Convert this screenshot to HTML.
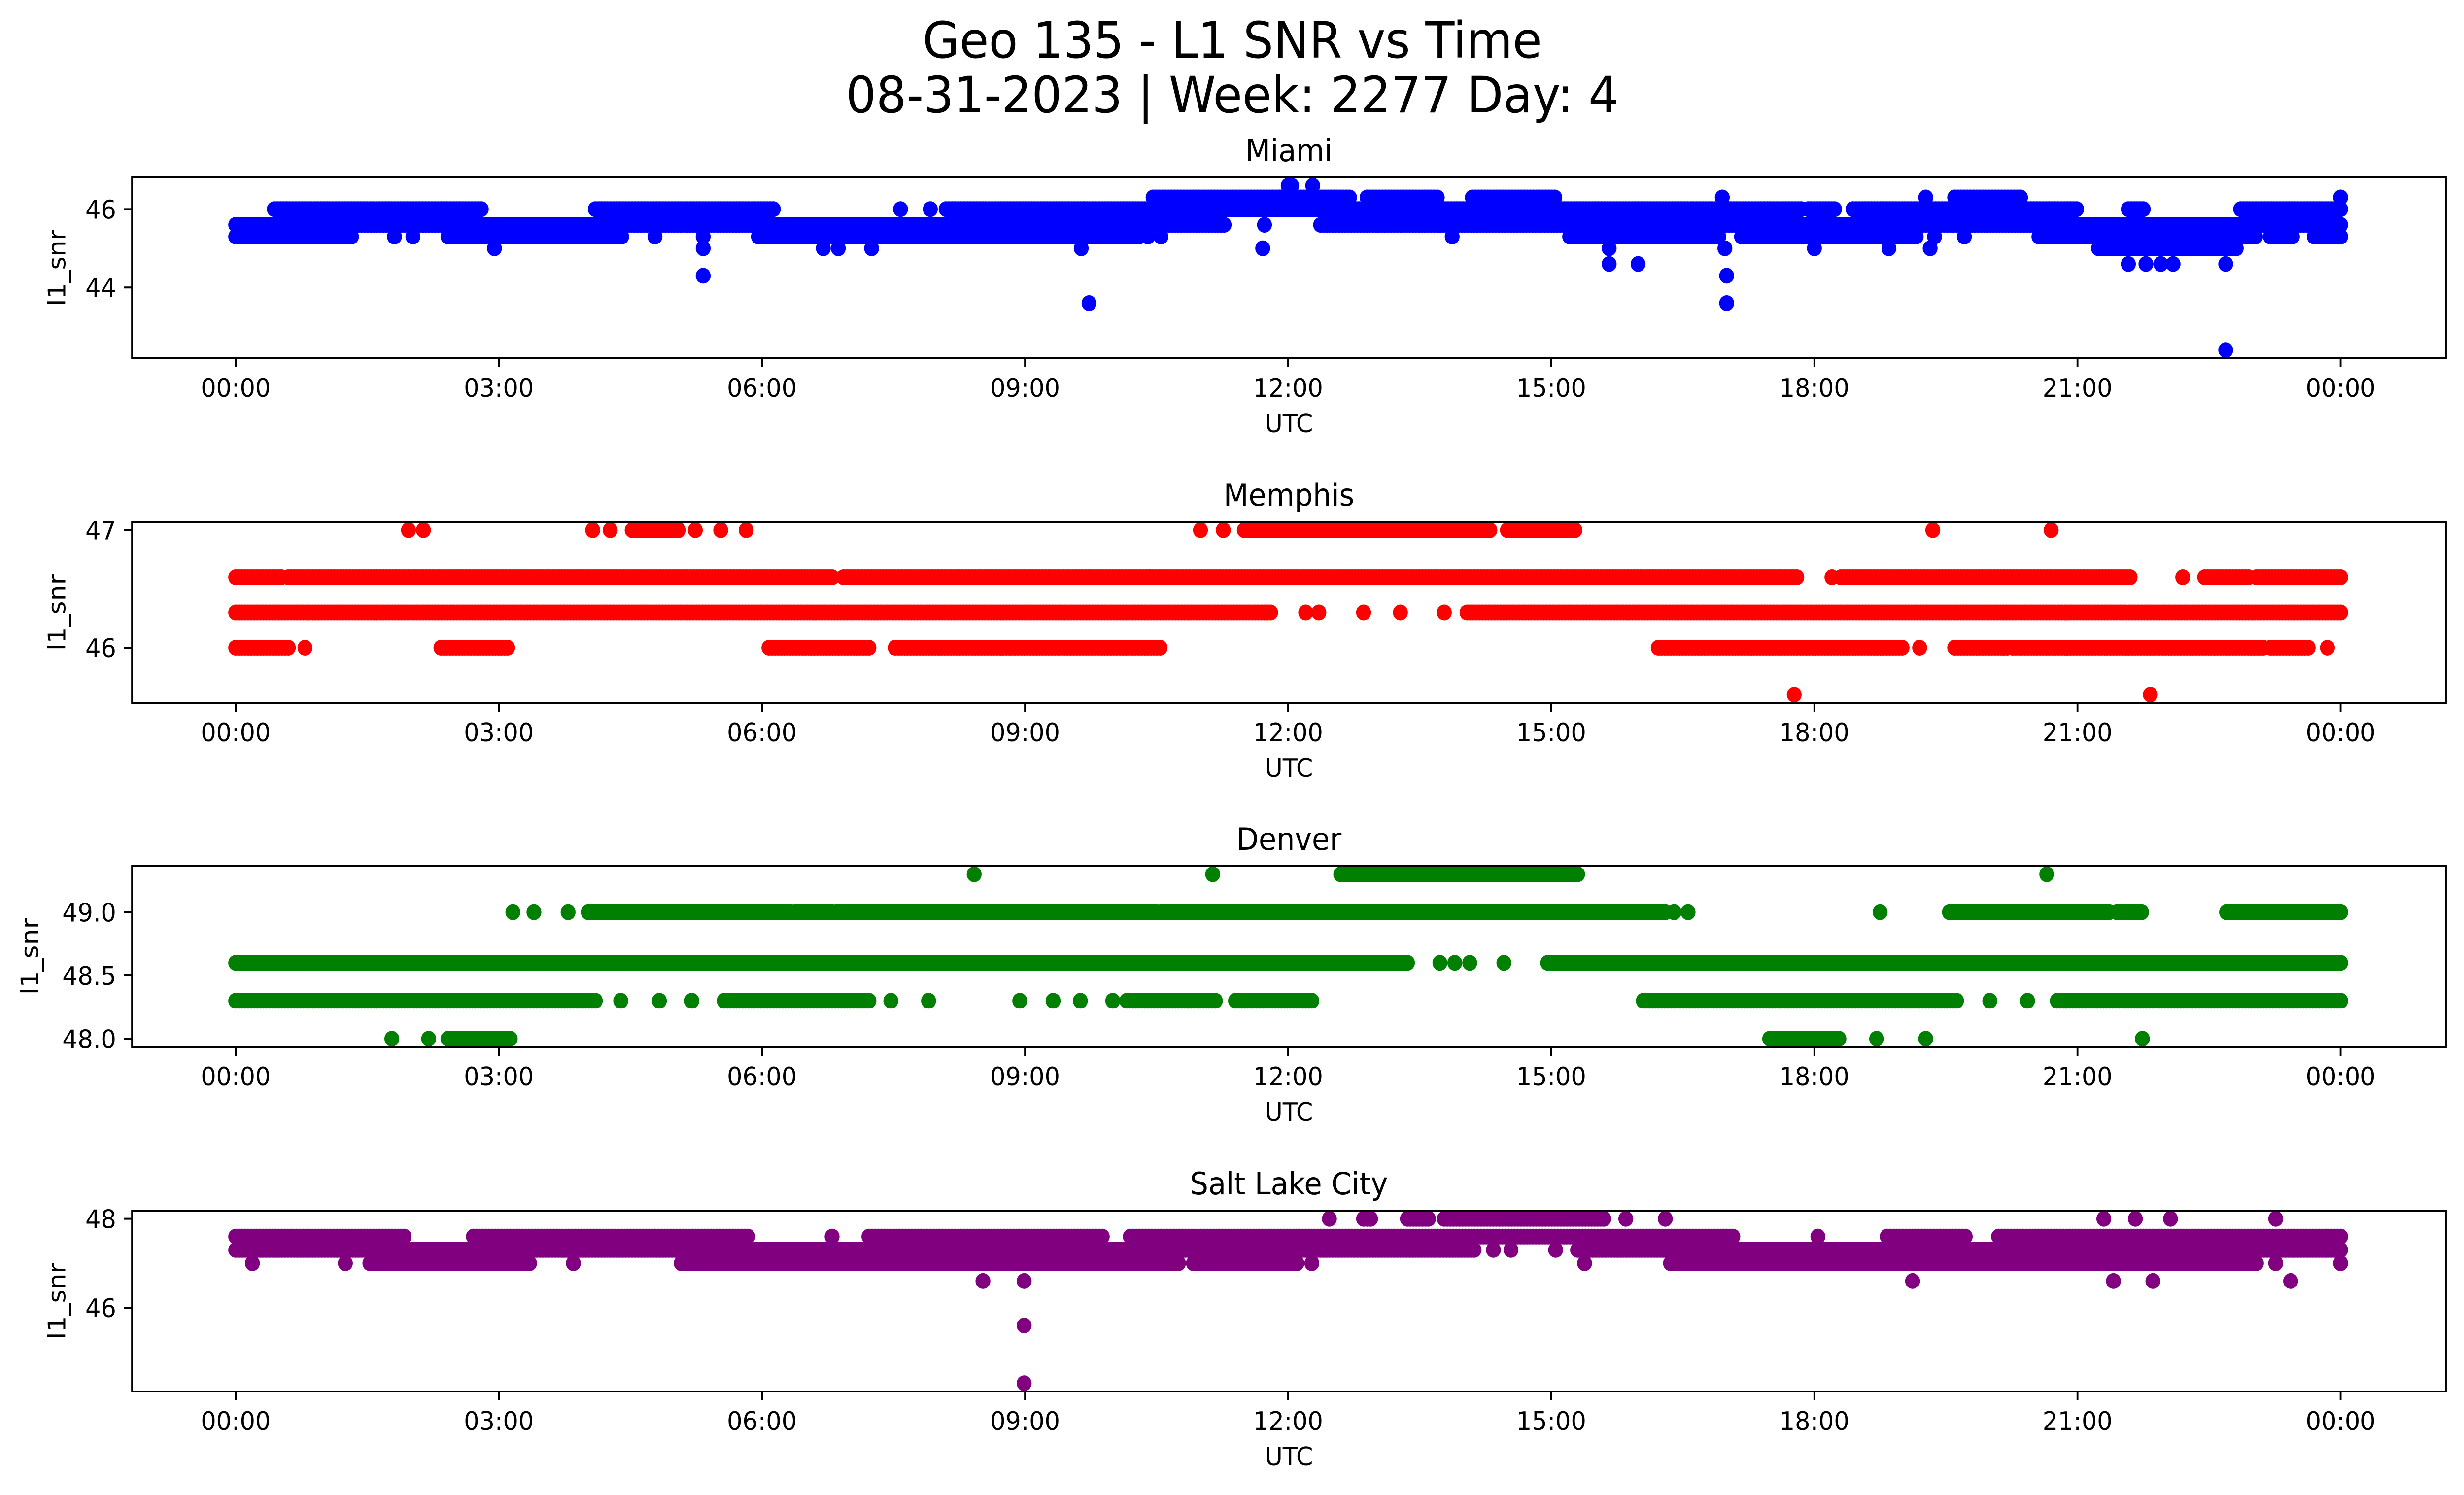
<!DOCTYPE html>
<html><head><meta charset="utf-8">
<style>
html,body{margin:0;padding:0;background:#fff;overflow:hidden;width:100%;height:100%;}
svg{display:block;width:100vw;height:100vh;font-family:"DejaVu Sans","Liberation Sans",sans-serif;}
</style></head>
<body>
<svg id="fig" viewBox="0 0 5279 3033" preserveAspectRatio="none" xmlns="http://www.w3.org/2000/svg">
<rect width="5279" height="3033" fill="#fff"/>
<text x="2640" y="117" font-size="102" text-anchor="middle">Geo 135 - L1 SNR vs Time</text>
<text x="2640" y="228" font-size="102" text-anchor="middle">08-31-2023 | Week: 2277 Day: 4</text>
</svg>
<script>
// ---- chart data (hours UTC, SNR values) ----
const panelNames = ["Miami", "Memphis", "Denver", "Salt Lake City"];
const panelColors = ["#0000ff", "#ff0000", "#008000", "#800080"];
const xTickHours = [0, 3, 6, 9, 12, 15, 18, 21, 24];
const xTickLabels = ["00:00","03:00","06:00","09:00","12:00","15:00","18:00","21:00","00:00"];
const yDomains = [[42.19, 46.81], [45.53, 47.07], [47.935, 49.365], [44.115, 48.185]];
const yTicksMiami = [44, 46];
const yTicksMemphis = [46, 47];
const yTicksDenver = [48.0, 48.5, 49.0];
const yTicksSLC = [46, 48];
const yTickLabelsDenver = ["48.0", "48.5", "49.0"];

// runs: [value, startHour, endHour] (endHour omitted = single sample)
const miamiRuns = [
 [45.3,0,1.32],[45.3,1.81],[45.3,2.02],[45.3,2.42,4.4],[45.3,4.78],[45.3,5.33],[45.3,5.96,10.3],[45.3,10.4],[45.3,10.55],
 [45.6,0,11.27],[45.6,11.73],
 [46.0,0.44,2.8],[46.0,4.1,6.13],[46.0,7.58],[46.0,7.92],[46.0,8.1,9.67],[46.0,9.67,12],
 [46.3,10.46,12],[46.6,12.0],
 [45.0,2.95],[45.0,5.33],[45.0,6.7],[45.0,6.87],[45.0,7.25],[45.0,9.64],[45.0,11.71],
 [44.3,5.33],[43.6,9.73],
 [46.6,12.04],[46.6,12.28],
 [46.3,11.9,12.7],[46.3,12.9,13.7],[46.3,14.1,15.04],[46.3,16.95],[46.3,19.27],[46.3,19.6,20.35],[46.3,24.0],
 [46.0,12,17.85],[46.0,17.93,18.23],[46.0,18.44,20.99],[46.0,21.58,21.75],[46.0,22.86,24.0],
 [45.6,12.37,24.0],
 [45.3,13.87],[45.3,15.21,16.91],[45.3,17.17,19.16],[45.3,19.37],[45.3,19.71],[45.3,20.56,23.03],[45.3,23.2,23.45],[45.3,23.7,24.0],
 [45.0,15.66],[45.0,16.98],[45.0,18.0],[45.0,18.85],[45.0,19.32],[45.0,21.24,22.81],
 [44.6,15.66],[44.6,15.99],[44.6,21.58],[44.6,21.78],[44.6,21.95],[44.6,22.09],[44.6,22.69],
 [44.3,17.0],[43.6,17.0],[42.4,22.69]
];
const memphisRuns = [
 [47.0,1.97],[47.0,2.14],[47.0,4.07],[47.0,4.27],[47.0,4.52,5.05],[47.0,5.24],[47.0,5.53],[47.0,5.82],
 [47.0,11.0],[47.0,11.26],[47.0,11.5,14.3],[47.0,14.5,15.27],[47.0,19.35],[47.0,20.7],
 [46.6,0,0.52],[46.6,0.6,6.8],[46.6,6.93,10.42],[46.6,10.42,17.8],[46.6,18.2],[46.6,18.3,21.6],[46.6,22.2],[46.6,22.45,22.95],[46.6,23.04,24.0],
 [46.3,0,11.8],[46.3,12.2],[46.3,12.35],[46.3,12.86],[46.3,13.28],[46.3,13.78],[46.3,14.04,24.0],
 [46.0,0,0.6],[46.0,0.79],[46.0,2.34,3.1],[46.0,6.08,7.22],[46.0,7.52,8.82],[46.0,8.85,10.54],[46.0,16.22,19.0],[46.0,19.2],[46.0,19.6,20.2],[46.0,20.26,23.12],[46.0,23.2,23.63],[46.0,23.85],
 [45.6,17.77],[45.6,21.83]
];
const denverRuns = [
 [49.3,8.42],[49.3,11.14],[49.3,12.6,15.3],[49.3,20.65],
 [49.0,3.16],[49.0,3.4],[49.0,3.79],[49.0,4.02,6.33],[49.0,6.38,6.8],[49.0,6.85,10.5],[49.0,10.55,16.3],[49.0,16.4],[49.0,16.56],[49.0,18.75],[49.0,19.54,21.36],[49.0,21.45,21.73],[49.0,22.7,24.0],
 [48.6,0,13.36],[48.6,13.73],[48.6,13.9],[48.6,14.07],[48.6,14.46],[48.6,14.96,24.0],
 [48.3,0,4.1],[48.3,4.39],[48.3,4.83],[48.3,5.2],[48.3,5.57,7.22],[48.3,7.47],[48.3,7.9],[48.3,8.94],[48.3,9.32],[48.3,9.63],[48.3,10.0],[48.3,10.16,11.17],[48.3,11.4,12.27],[48.3,16.05,19.62],[48.3,20.0],[48.3,20.43],[48.3,20.77,24.0],
 [48.0,1.78],[48.0,2.2],[48.0,2.42,3.13],[48.0,17.49,18.28],[48.0,18.71],[48.0,19.27],[48.0,21.74]
];
const slcRuns = [
 [48.0,12.47],[48.0,12.86,12.94],[48.0,13.36,13.6],[48.0,13.78,15.6],[48.0,15.85],[48.0,16.3],[48.0,21.3],[48.0,21.66],[48.0,22.06],[48.0,23.26],
 [47.6,0,1.92],[47.6,2.71,5.84],[47.6,6.8],[47.6,7.22,9.88],[47.6,10.2,17.07],[47.6,18.04],[47.6,18.83,19.72],[47.6,20.1,24.0],
 [47.3,0,14.12],[47.3,14.34],[47.3,14.54],[47.3,15.05],[47.3,15.3,24.0],
 [47.0,0.19],[47.0,1.25],[47.0,1.53,3.35],[47.0,3.85],[47.0,5.08,10.75],[47.0,10.92,12.1],[47.0,12.27],[47.0,15.38],[47.0,16.36,23.04],[47.0,23.26],[47.0,24.0],
 [46.6,8.52],[46.6,8.99],[46.6,19.12],[46.6,21.41],[46.6,21.86],[46.6,23.43],
 [45.6,8.99],[44.3,8.99]
];
const panelRuns = [miamiRuns, memphisRuns, denverRuns, slcRuns];
const panelYTicks = [yTicksMiami, yTicksMemphis, yTicksDenver, yTicksSLC];

// ---- layout ----
const NS = "http://www.w3.org/2000/svg";
const svg = document.getElementById("fig");
const AX_L = 283, AX_R = 5240, AX_H = 367;
const AX_TOPS = [360, 1059, 1757, 2456];
const X0 = 505, XPH = 187.9;
function xScale(h){ return X0 + XPH * h; }
function yScaleFor(i){
  const d = yDomains[i], top = AX_TOPS[i], bot = top + AX_H;
  return v => bot - (v - d[0]) / (d[1] - d[0]) * AX_H;
}
function mk(tag, attrs){
  const e = document.createElementNS(NS, tag);
  for (const k in attrs) e.setAttribute(k, attrs[k]);
  return e;
}
const ylabelX = [140, 140, 82, 140];
const STEP = 0.035;

panelNames.forEach((name, i) => {
  const top = AX_TOPS[i], bot = top + AX_H;
  const ys = yScaleFor(i);
  const g = mk("g", {});
  
  
  svg.appendChild(g);

  const pts = mk("g", {fill: panelColors[i]});
  
  
  g.appendChild(pts);
  panelRuns[i].forEach(r => {
    const v = r[0], s = r[1], e = (r.length > 2 ? r[2] : r[1]);
    const n = Math.max(1, Math.round((e - s) / STEP));
    for (let k = 0; k <= n; k++) {
      const h = (e === s) ? s : s + (e - s) * k / n;
      const c = mk("circle", {cx: xScale(h).toFixed(1), cy: ys(v).toFixed(1), r: 16});
      
      
      pts.appendChild(c);
      if (e === s) break;
    }
  });

  const fr = mk("rect", {x: AX_L, y: top, width: AX_R - AX_L, height: AX_H, fill: "none", stroke: "#000", "stroke-width": 4});
  
  
  g.appendChild(fr);

  const t = mk("text", {x: (AX_L + AX_R) / 2, y: top - 33, "font-size": 62, "text-anchor": "middle"});
  t.textContent = name;
  
  
  g.appendChild(t);

  xTickHours.forEach((h, j) => {
    const x = xScale(h);
    const tk = mk("line", {x1: x, x2: x, y1: bot, y2: bot + 18, stroke: "#000", "stroke-width": 4});
    
    
    g.appendChild(tk);
    const tl = mk("text", {x: x, y: bot + 78, "font-size": 52, "text-anchor": "middle"});
    tl.textContent = xTickLabels[j];
    
    
    g.appendChild(tl);
  });
  const xl = mk("text", {x: (AX_L + AX_R) / 2, y: bot + 150, "font-size": 52, "text-anchor": "middle"});
  xl.textContent = "UTC";
  
  
  g.appendChild(xl);

  panelYTicks[i].forEach((v, j) => {
    const y = ys(v);
    const tk = mk("line", {x1: AX_L - 18, x2: AX_L, y1: y, y2: y, stroke: "#000", "stroke-width": 4});
    
    
    g.appendChild(tk);
    const tl = mk("text", {x: AX_L - 34, y: y + 19, "font-size": 52, "text-anchor": "end"});
    tl.textContent = (i === 2) ? yTickLabelsDenver[j] : String(v);
    
    
    g.appendChild(tl);
  });
  const yl = mk("text", {x: ylabelX[i], y: top + AX_H / 2, "font-size": 52, "text-anchor": "middle",
    transform: "rotate(-90 " + ylabelX[i] + " " + (top + AX_H / 2) + ")"});
  yl.textContent = "l1_snr";
  
  
  g.appendChild(yl);
});
</script>
</body></html>
